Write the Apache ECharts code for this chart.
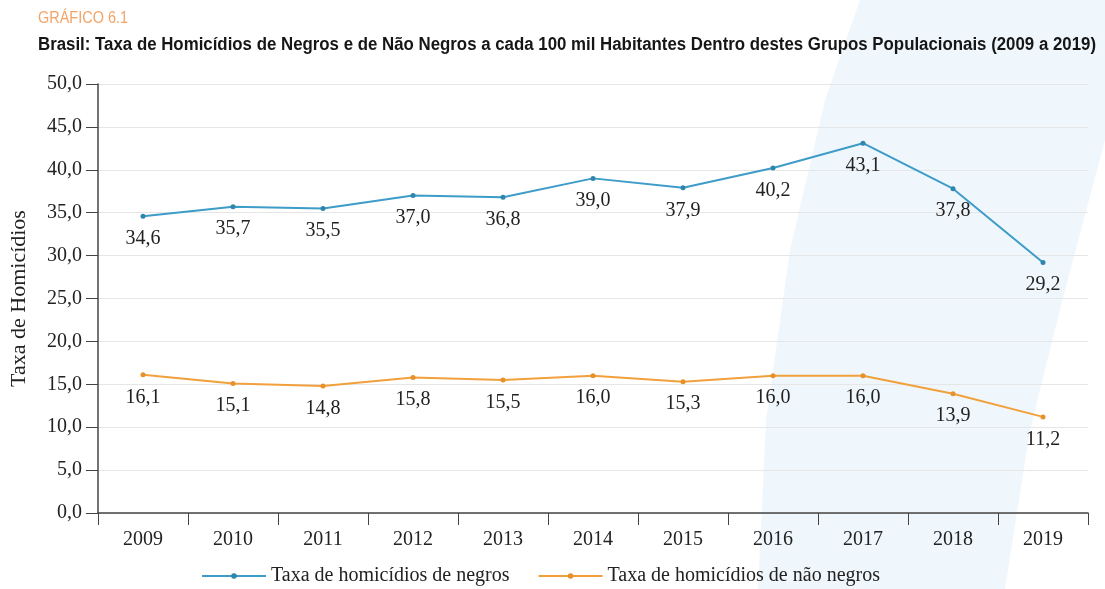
<!DOCTYPE html>
<html><head><meta charset="utf-8">
<script src="https://cdn.jsdelivr.net/npm/echarts@6/dist/echarts.min.js"></script>
<style>html,body{margin:0;padding:0;background:#fff}#c{width:1105px;height:589px}</style>
</head><body><div id="c"></div>
<script>
const years = ['2009','2010','2011','2012','2013','2014','2015','2016','2017','2018','2019'];
const negros = [34.6,35.7,35.5,37.0,36.8,39.0,37.9,40.2,43.1,37.8,29.2];
const naoNegros = [16.1,15.1,14.8,15.8,15.5,16.0,15.3,16.0,16.0,13.9,11.2];
const seriesNames = ['Taxa de homicídios de negros','Taxa de homicídios de não negros'];
const kicker = 'GRÁFICO 6.1';
const titleText = 'Brasil: Taxa de Homicídios de Negros e de Não Negros a cada 100 mil Habitantes Dentro destes Grupos Populacionais (2009 a 2019)';
const serif = '"Liberation Serif","DejaVu Serif",serif';
const fmt = v => v.toFixed(1).replace('.', ',');

const mc = document.createElement('canvas').getContext('2d');
function measure(font, txt){ mc.font = font; return mc.measureText(txt).width; }
const titleFont = 'bold 18px "Liberation Sans",Arial,sans-serif';
const kickFont = '17px "Liberation Sans",Arial,sans-serif';
const titleScale = 1058 / measure(titleFont, titleText);
const kickScale = 90 / measure(kickFont, kicker);

const chart = echarts.init(document.getElementById('c'));
chart.setOption({
  backgroundColor:'#fff',
  animation:false,
  graphic:[
    {type:'polygon', z:-10, silent:true,
      shape:{points:[[860,0],[1105,0],[1105,140],[1065,290],[1030,430],[1005,589],[758,589],[766,420],[790,250],[825,100]]},
      style:{fill:'#f0f7fc'}},
    {type:'text', left:38, top:10, scaleX:kickScale, style:{text:kicker, fill:'#f4a366', font:kickFont}},
    {type:'text', left:38, top:36, scaleX:titleScale, style:{text:titleText, fill:'#161616', font:titleFont}}
  ],
  grid:{left:98,right:17,top:84,bottom:76},
  legend:{top:561,left:196,itemWidth:64,itemHeight:7,itemGap:28,
    textStyle:{fontFamily:serif,fontSize:20,color:'#222'},data:seriesNames},
  xAxis:{type:'category',data:years,boundaryGap:true,
    axisLine:{lineStyle:{color:'#444',width:1.5}},
    axisTick:{show:true,length:12,lineStyle:{color:'#444'}},
    axisLabel:{fontFamily:serif,fontSize:20,color:'#222',margin:17}},
  yAxis:{type:'value',min:0,max:50,interval:5,
    name:'Taxa de Homicídios',nameLocation:'middle',nameGap:68,
    nameTextStyle:{fontFamily:serif,fontSize:22,color:'#222'},
    axisLine:{show:true,lineStyle:{color:'#444',width:1.5}},
    axisTick:{show:true,length:12,lineStyle:{color:'#444'}},
    splitLine:{lineStyle:{color:'#e6e6e6'}},
    axisLabel:{fontFamily:serif,fontSize:20,color:'#222',margin:16,formatter:fmt}},
  series:[
    {name:seriesNames[0],type:'line',data:negros,color:'#3d9cc8',symbol:'circle',symbolSize:5,
      itemStyle:{color:'#2f86ad'},lineStyle:{width:2,color:'#3d9cc8'},
      label:{show:true,position:'bottom',distance:10,fontFamily:serif,fontSize:20,color:'#222',formatter:p=>fmt(p.value)}},
    {name:seriesNames[1],type:'line',data:naoNegros,color:'#f2a03c',symbol:'circle',symbolSize:5,
      itemStyle:{color:'#e8902a'},lineStyle:{width:2,color:'#f2a03c'},
      label:{show:true,position:'bottom',distance:10,fontFamily:serif,fontSize:20,color:'#222',formatter:p=>fmt(p.value)}}
  ]
});
</script></body></html>
